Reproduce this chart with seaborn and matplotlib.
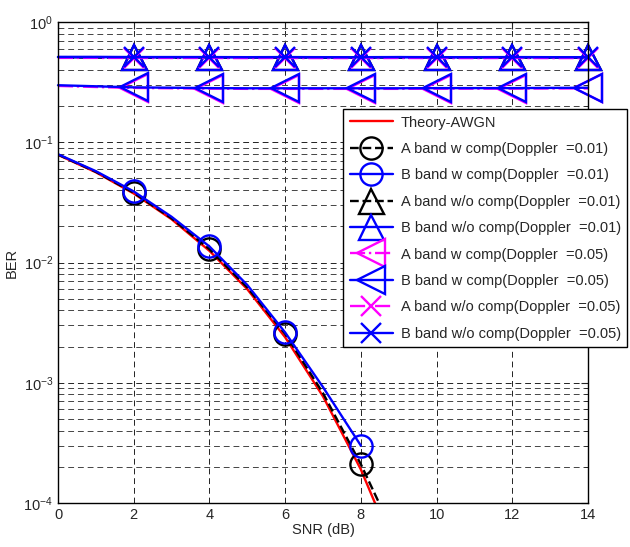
import numpy as np
import matplotlib
matplotlib.use("Agg")
import matplotlib.pyplot as plt
import seaborn as sns

# SNR grid (dB)
snr = [0, 1, 2, 3, 4, 5, 6, 7, 8, 9, 10, 11, 12, 13, 14]
nan = np.nan

# BER curves
theory_awgn = [0.0786, 0.0563, 0.0375, 0.0229, 0.0125, 0.0060, 0.00239, 0.00077,
               0.00019, 3.4e-5, 3.9e-6, nan, nan, nan, nan]
a_wcomp_001 = [0.0790, 0.0568, 0.0380, 0.0233, 0.0129, 0.0062, 0.00255, 0.00082,
               0.00021, 4.5e-5, nan, nan, nan, nan, nan]
b_wcomp_001 = [0.0795, 0.0575, 0.0390, 0.0240, 0.0136, 0.0065, 0.00262, 0.00092,
               0.00030, nan, nan, nan, nan, nan, nan]
a_wocomp_001 = [0.510, 0.510, 0.508, 0.508, 0.509, 0.508, 0.508, 0.507, 0.508,
                0.508, 0.508, 0.507, 0.508, 0.508, 0.508]
b_wocomp_001 = [0.512, 0.512, 0.511, 0.511, 0.511, 0.510, 0.511, 0.510, 0.510,
                0.511, 0.510, 0.510, 0.511, 0.510, 0.510]
a_wcomp_005 = [0.294, 0.288, 0.283, 0.281, 0.279, 0.278, 0.278, 0.278, 0.278,
               0.278, 0.279, 0.279, 0.279, 0.280, 0.280]
b_wcomp_005 = [0.298, 0.292, 0.286, 0.284, 0.282, 0.281, 0.281, 0.281, 0.281,
               0.281, 0.282, 0.282, 0.282, 0.283, 0.284]
a_wocomp_005 = [0.503, 0.503, 0.502, 0.502, 0.502, 0.501, 0.502, 0.501, 0.501,
                0.502, 0.501, 0.501, 0.502, 0.501, 0.501]
b_wocomp_005 = [0.511, 0.511, 0.510, 0.510, 0.510, 0.509, 0.510, 0.509, 0.509,
                0.510, 0.509, 0.509, 0.510, 0.509, 0.509]

labels = [
    "Theory-AWGN",
    "A band w comp(Doppler  =0.01)",
    "B band w comp(Doppler  =0.01)",
    "A band w/o comp(Doppler  =0.01)",
    "B band w/o comp(Doppler  =0.01)",
    "A band w comp(Doppler  =0.05)",
    "B band w comp(Doppler  =0.05)",
    "A band w/o comp(Doppler  =0.05)",
    "B band w/o comp(Doppler  =0.05)",
]

sns.set_style("white")
plt.rcParams['font.family'] = ['Liberation Sans', 'DejaVu Sans']
plt.rcParams['mathtext.default'] = 'regular'
plt.rcParams['font.size'] = 10.5

fig = plt.figure(figsize=(6.3, 5.47), dpi=100)
ax = fig.add_axes([58 / 630, 1 - 503 / 547, 530 / 630, 481 / 547])

# (values, colour, linestyle, marker, markersize, clip)
series = [
    (theory_awgn, 'red', '-', None, 0, True),
    (a_wcomp_001, 'black', '--', 'o', 16, True),
    (b_wcomp_001, 'blue', '-', 'o', 16, True),
    (a_wocomp_001, 'black', '--', '^', 18, False),
    (b_wocomp_001, 'blue', '-', '^', 18, False),
    (a_wcomp_005, 'magenta', '-.', '<', 20, False),
    (b_wcomp_005, 'blue', '-', '<', 20, False),
    (a_wocomp_005, 'magenta', '-.', 'x', 15, False),
    (b_wocomp_005, 'blue', '-', 'x', 15, False),
]

for (vals, col, ls, mk, ms, clip), lab in zip(series, labels):
    kws = dict(color=col, linestyle=ls, linewidth=1.7, label=lab, clip_on=clip)
    if mk is not None:
        kws.update(marker=mk, markersize=ms, markevery=slice(2, None, 2),
                   markerfacecolor='none', markeredgecolor=col,
                   markeredgewidth=1.7)
    sns.lineplot(x=snr, y=vals, ax=ax, sort=False, **kws)

ax.set_yscale('log')
ax.set_xlim(0, 14)
ax.set_ylim(1e-4, 1)
ax.set_xticks(range(0, 15, 2))

ax.grid(True, which='major', linestyle=(0, (6, 4)), color='#222222', linewidth=0.7)
ax.grid(True, which='minor', axis='y', linestyle=(0, (6, 4)), color='#444444', linewidth=0.7)
ax.tick_params(which='both', direction='in', top=True, right=True, labelsize=10.5)
ax.tick_params(which='major', length=5)
ax.tick_params(which='minor', length=3)
for sp in ax.spines.values():
    sp.set_color('black')
    sp.set_linewidth(1.0)

ax.set_xlabel("SNR (dB)", fontsize=10.5, labelpad=1)
ax.set_ylabel("BER", fontsize=10.5, labelpad=3)

leg = ax.legend(loc='upper left', bbox_to_anchor=(343 / 630, 1 - 109 / 547),
                bbox_transform=fig.transFigure, fontsize=10.5, frameon=True,
                fancybox=False, framealpha=1, edgecolor='black',
                handlelength=3.0, handletextpad=0.5, labelspacing=0.85,
                borderpad=0.45, borderaxespad=0, numpoints=1)
leg.get_frame().set_linewidth(1.0)
leg.set_zorder(5)

fig.savefig("out.png", dpi=100)
